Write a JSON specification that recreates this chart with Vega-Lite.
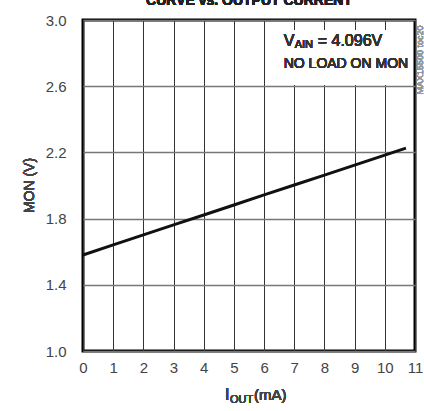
{
  "$schema": "https://vega.github.io/schema/vega-lite/v6.json",
  "autosize": "none",
  "width": 332,
  "height": 331,
  "padding": {"left": 83, "top": 20, "right": 9, "bottom": 60},
  "background": "white",
  "config": {
    "view": {"stroke": "black", "strokeWidth": 3},
    "font": "Liberation Sans"
  },
  "data": {"values": [
    {"i": 0, "v": 1.58},
    {"i": 1, "v": 1.641},
    {"i": 2, "v": 1.702},
    {"i": 3, "v": 1.762},
    {"i": 4, "v": 1.822},
    {"i": 5, "v": 1.882},
    {"i": 6, "v": 1.943},
    {"i": 7, "v": 2.003},
    {"i": 8, "v": 2.063},
    {"i": 9, "v": 2.123},
    {"i": 10, "v": 2.184},
    {"i": 10.7, "v": 2.226}
  ]},
  "layer": [
    {
      "mark": {"type": "line", "color": "#111", "strokeWidth": 3},
      "encoding": {
        "x": {"field": "i", "type": "quantitative", "scale": {"domain": [0, 11], "nice": false},
          "axis": {"values": [0,1,2,3,4,5,6,7,8,9,10,11], "tickCount": 30, "format": "d", "title": null, "grid": true, "gridColor": "#333", "gridWidth": 1, "domain": false, "ticks": false, "labelFontSize": 15, "labelColor": "#444", "labelPadding": 9, "labelFont": "Liberation Sans", "labelOverlap": false, "labelFlush": false, "zindex": 0}},
        "y": {"field": "v", "type": "quantitative", "scale": {"domain": [1, 3], "nice": false, "zero": false},
          "axis": {"values": [1.0, 1.4, 1.8, 2.2, 2.6, 3.0], "tickCount": 30, "format": ".1f", "title": null, "grid": true, "gridColor": "#777", "gridWidth": 1.5, "domain": false, "ticks": false, "labelFontSize": 15, "labelColor": "#444", "labelPadding": 17, "labelFont": "Liberation Sans", "labelOverlap": false, "labelFlush": false, "zindex": 0}}
      }
    },
    {
      "mark": {"type": "rect", "fill": "white"},
      "encoding": {
        "x": {"datum": 6.7, "type": "quantitative"},
        "x2": {"datum": 10.9},
        "y": {"datum": 2.94, "type": "quantitative"},
        "y2": {"datum": 2.61}
      }
    },
    {
      "mark": {"type": "text", "font": "Liberation Sans", "fontSize": 16, "color": "#333", "align": "left", "baseline": "alphabetic"},
      "encoding": {
        "x": {"datum": 6.65, "type": "quantitative"},
        "y": {"datum": 2.845, "type": "quantitative"},
        "text": {"value": "V"}
      }
    },
    {
      "mark": {"type": "text", "font": "Liberation Sans", "fontSize": 11, "color": "#333", "align": "left", "baseline": "alphabetic", "dx": 11},
      "encoding": {
        "x": {"datum": 6.65, "type": "quantitative"},
        "y": {"datum": 2.83, "type": "quantitative"},
        "text": {"value": "AIN"}
      }
    },
    {
      "mark": {"type": "text", "font": "Liberation Sans", "fontSize": 16, "color": "#333", "align": "left", "baseline": "alphabetic", "dx": 34},
      "encoding": {
        "x": {"datum": 6.65, "type": "quantitative"},
        "y": {"datum": 2.845, "type": "quantitative"},
        "text": {"value": "= 4.096V"}
      }
    },
    {
      "mark": {"type": "text", "font": "Liberation Sans", "fontSize": 14, "color": "#333", "align": "left", "baseline": "alphabetic"},
      "encoding": {
        "x": {"datum": 6.65, "type": "quantitative"},
        "y": {"datum": 2.71, "type": "quantitative"},
        "text": {"value": "NO LOAD ON MON"}
      }
    },
    {
      "mark": {"type": "text", "font": "Liberation Sans", "fontSize": 9, "color": "#999", "align": "left", "baseline": "middle", "angle": 270, "dx": 0, "dy": 5, "clip": false},
      "encoding": {
        "x": {"datum": 11, "type": "quantitative"},
        "y": {"datum": 2.55, "type": "quantitative"},
        "text": {"value": "MAX15500 toc20"}
      }
    },
    {
      "mark": {"type": "text", "font": "Liberation Sans", "fontSize": 14, "fontWeight": "bold", "color": "#222", "align": "center", "baseline": "alphabetic", "dy": -15, "clip": false},
      "encoding": {
        "x": {"datum": 5.5, "type": "quantitative"},
        "y": {"datum": 3.0, "type": "quantitative"},
        "text": {"value": "CURVE vs. OUTPUT CURRENT"}
      }
    },
    {
      "mark": {"type": "text", "font": "Liberation Sans", "fontSize": 14, "color": "#444", "align": "center", "baseline": "middle", "angle": 270, "dx": 0, "dy": -53, "clip": false},
      "encoding": {
        "x": {"datum": 0, "type": "quantitative"},
        "y": {"datum": 2.0, "type": "quantitative"},
        "text": {"value": "MON (V)"}
      }
    },
    {
      "mark": {"type": "text", "font": "Liberation Sans", "fontSize": 16, "color": "#444", "align": "left", "baseline": "alphabetic", "dx": -24, "dy": 49, "clip": false},
      "encoding": {
        "x": {"datum": 5.5, "type": "quantitative"},
        "y": {"datum": 1.0, "type": "quantitative"},
        "text": {"value": "I"}
      }
    },
    {
      "mark": {"type": "text", "font": "Liberation Sans", "fontSize": 11, "color": "#444", "align": "left", "baseline": "alphabetic", "dx": -19, "dy": 52, "clip": false},
      "encoding": {
        "x": {"datum": 5.5, "type": "quantitative"},
        "y": {"datum": 1.0, "type": "quantitative"},
        "text": {"value": "OUT"}
      }
    },
    {
      "mark": {"type": "text", "font": "Liberation Sans", "fontSize": 15, "color": "#444", "align": "left", "baseline": "alphabetic", "dx": 5, "dy": 49, "clip": false},
      "encoding": {
        "x": {"datum": 5.5, "type": "quantitative"},
        "y": {"datum": 1.0, "type": "quantitative"},
        "text": {"value": "(mA)"}
      }
    }
  ]
}
